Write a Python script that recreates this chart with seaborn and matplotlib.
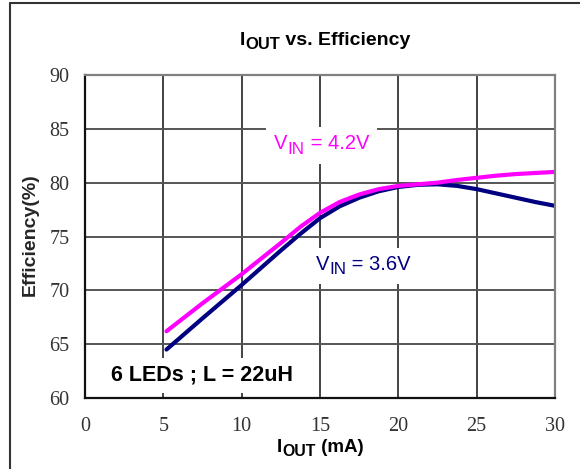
import matplotlib
matplotlib.use("Agg")
import numpy as np
import pandas as pd
import matplotlib.pyplot as plt
import seaborn as sns
from matplotlib.lines import Line2D
from matplotlib.patches import Rectangle
from matplotlib.transforms import Bbox, IdentityTransform, offset_copy

# ---- data ----
iout = [5.2, 7.5, 10, 12.5, 13.75, 15, 16.25, 17.5, 18.75, 20, 21.25, 22.5, 23.75, 25,
        26.25, 27.5, 28.75, 30]
eff_36 = [64.5, 67.4, 70.5, 73.7, 75.25, 76.7, 77.8, 78.6, 79.2, 79.6, 79.8, 79.85, 79.7, 79.4,
          79.0, 78.6, 78.2, 77.85]
eff_42 = [66.2, 68.8, 71.5, 74.4, 75.9, 77.2, 78.2, 78.9, 79.4, 79.7, 79.85, 80.0, 80.25, 80.45,
          80.65, 80.8, 80.9, 81.0]
vin_labels = ["3.6V", "4.2V"]
xticks = [0, 5, 10, 15, 20, 25, 30]
yticks = [60, 65, 70, 75, 80, 85, 90]

df = pd.DataFrame({
    "iout": iout * 2,
    "eff": eff_36 + eff_42,
    "vin": [vin_labels[0]] * len(iout) + [vin_labels[1]] * len(iout),
})

NAVY = "#000080"
PINK = "#FF00FF"

sns.set_style("white")
plt.rcParams["font.family"] = ["Liberation Sans", "DejaVu Sans"]

fig = plt.figure(figsize=(5.8, 4.69), dpi=100)
ax = fig.add_axes([85 / 580, 1 - 398 / 469, 470 / 580, 323 / 469])

sns.lineplot(data=df, x="iout", y="eff", hue="vin", hue_order=vin_labels,
             palette={vin_labels[0]: NAVY, vin_labels[1]: PINK},
             linewidth=3.0, legend=False, ax=ax, solid_capstyle="round",
             solid_joinstyle="round", zorder=2)

ax.set_xlim(0, 30)
ax.set_ylim(60, 90)
ax.set_xticks(xticks)
ax.set_yticks(yticks)
ax.set_xlabel("")
ax.set_ylabel("")
ax.set_axisbelow(True)
ax.xaxis.grid(True, color="#111111", linewidth=1.1)
ax.yaxis.grid(True, color="#555555", linewidth=1.4)

for side in ["left", "bottom"]:
    ax.spines[side].set_color("#111111")
    ax.spines[side].set_linewidth(1.6)
for side in ["top", "right"]:
    ax.spines[side].set_color("#808080")
    ax.spines[side].set_linewidth(1.6)

ax.tick_params(axis="x", length=0, pad=14, labelsize=14.5, labelcolor="#333333")
ax.tick_params(axis="y", length=0, pad=11, labelsize=14.5, labelcolor="#333333")
for lab in ax.get_xticklabels() + ax.get_yticklabels():
    lab.set_fontfamily("Liberation Serif")

ax.set_ylabel("Efficiency(%)", fontsize=14, fontweight="bold", va="center")
ax.yaxis.set_label_coords((30 - 85) / 470, (398 - 235) / 323)

# figure frame (left and top edges)
fig.add_artist(Line2D([10 / 580, 10 / 580], [0, 1 - 3 / 469], transform=fig.transFigure,
                      color="#333333", linewidth=1.5))
fig.add_artist(Line2D([10 / 580, 1], [1 - 3 / 469, 1 - 3 / 469], transform=fig.transFigure,
                      color="#333333", linewidth=1.5))


def rich_text(x, y, parts, transform, size, box=False, **kw):
    """parts: (string, size scale, baseline shift in points); centred on x, baseline at y"""
    first = ax.text(x, y, parts[0][0], transform=transform, fontsize=size * parts[0][1],
                    ha="left", va="baseline", zorder=3, **kw)
    texts = [first]
    prev, prev_dy = first, parts[0][2]
    for s, scale, dy in parts[1:]:
        t = ax.annotate(s, xy=(1, 0), xycoords=prev, xytext=(0, dy - prev_dy),
                        textcoords="offset points", ha="left", va="bottom",
                        fontsize=size * scale, annotation_clip=False, zorder=3, **kw)
        texts.append(t)
        prev, prev_dy = t, dy
    fig.canvas.draw()
    r = fig.canvas.get_renderer()
    bb = Bbox.union([t.get_window_extent(r) for t in texts])
    first.set_transform(offset_copy(transform, fig=fig, x=-bb.width / 2, y=0, units="dots"))
    if box:
        px, py = 8, 7
        ax.add_patch(Rectangle((bb.x0 - bb.width / 2 - px, bb.y0 - py), bb.width + 2 * px,
                               bb.height + 2 * py, transform=IdentityTransform(),
                               facecolor="white", edgecolor="none", zorder=1.5, clip_on=False))
    return texts


# title and x label with subscripts
rich_text(325 / 580, 1 - 45 / 469, [("I", 1, 0), ("OUT", 0.85, -2.5), (" vs. Efficiency", 1, 0)],
          fig.transFigure, 14, fontweight="bold", color="black")
rich_text(320 / 580, 1 - 452 / 469, [("I", 1, 0), ("OUT", 0.85, -2.5), (" (mA)", 1, 0)],
          fig.transFigure, 13.5, fontweight="bold", color="black")

# series labels
rich_text(15.1, 83.1, [("V", 1, 0), ("IN", 0.85, -2.5), (" = 4.2V", 1, 0)],
          ax.transData, 14.5, box=True, color=PINK)
rich_text(17.75, 71.9, [("V", 1, 0), ("IN", 0.85, -2.5), (" = 3.6V", 1, 0)],
          ax.transData, 14.5, box=True, color=NAVY)
rich_text(7.5, 61.6, [("6 LEDs ; L = 22uH", 1, 0)], ax.transData, 15.5, box=True,
          fontweight="bold", color="black")

fig.savefig("out.png", dpi=100)
